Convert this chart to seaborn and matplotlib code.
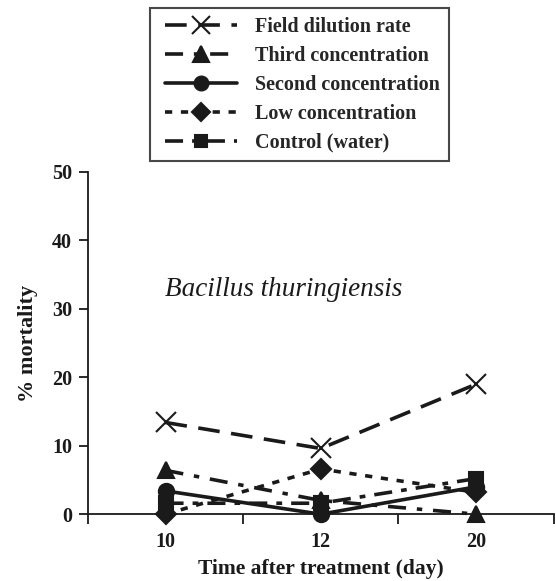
import matplotlib
matplotlib.use("Agg")
import matplotlib.pyplot as plt
from matplotlib.lines import Line2D
from matplotlib.legend_handler import HandlerLine2D
import seaborn as sns
import pandas as pd

days = ["10", "12", "20"]
series = ["Field dilution rate", "Third concentration", "Second concentration",
          "Low concentration", "Control (water)"]
field = [13.4, 9.6, 19.0]
third = [6.4, 2.0, 0.0]
second = [3.4, 0.0, 4.0]
low = [0.0, 6.6, 3.2]
control = [1.6, 1.6, 5.2]

values = [field, third, second, low, control]
rows = []
for name, vals in zip(series, values):
    for d, v in zip(days, vals):
        rows.append({"day": d, "mortality": v, "series": name})
df = pd.DataFrame(rows)

sns.set_theme(style="ticks")
plt.rcParams["font.family"] = ["Liberation Serif", "DejaVu Serif"]

INK = "#1a1a1a"
LW = 2.6
markers = {series[0]: "x", series[1]: "^", series[2]: "o", series[3]: "D", series[4]: "s"}
dashes = {series[0]: (6, 3.2), series[1]: (5, 3, 1.5, 3), series[2]: None,
          series[3]: (2.0, 2.4), series[4]: (5, 2.5, 1.6, 2.5)}
msizes = {series[0]: 14, series[1]: 12, series[2]: 11, series[3]: 10, series[4]: 10}

fig = plt.figure(figsize=(5.56, 5.81), dpi=100)
ax = fig.add_axes([0.158, 0.115, 0.838, 0.589])

for name in series:
    sub = df[df["series"] == name]
    d = dashes[name]
    sns.lineplot(data=sub, x="day", y="mortality", color=INK, linewidth=LW,
                 marker=markers[name], markersize=msizes[name],
                 markeredgecolor=INK, markerfacecolor=INK, markeredgewidth=1.5,
                 linestyle="-" if d is None else (0, d),
                 sort=False, legend=False, ax=ax, clip_on=False)

ax.set_xlim(-0.5, 2.5)
ax.set_ylim(0, 50)
ax.set_yticks([0, 10, 20, 30, 40, 50])
ax.set_xticks([0, 1, 2])
ax.set_xticklabels(days)
ax.set_xticks([-0.5, 0.5, 1.5, 2.5], minor=True)
ax.tick_params(axis="x", which="major", length=0, pad=13)
ax.tick_params(axis="x", which="minor", length=7, width=1.3, direction="out", color=INK)
ax.tick_params(axis="y", length=6.5, width=1.3, direction="out", color=INK, pad=5)
for lab in ax.get_xticklabels() + ax.get_yticklabels():
    lab.set_fontweight("bold")
    lab.set_fontsize(14.5)
    lab.set_color(INK)
sns.despine(ax=ax)
for s in ["left", "bottom"]:
    ax.spines[s].set_linewidth(1.3)
    ax.spines[s].set_color(INK)

ax.set_xlabel("Time after treatment (day)", fontsize=15.5, fontweight="bold", color=INK, labelpad=5)
ax.set_ylabel("% mortality", fontsize=16, fontweight="bold", color=INK, labelpad=10)

ax.text(0.76, 32.8, "Bacillus thuringiensis", fontsize=19.5, style="italic",
        ha="center", va="center", color=INK)

handles = []
for name in series:
    d = dashes[name]
    h = Line2D([], [], color=INK, linewidth=LW, marker=markers[name],
               markersize=msizes[name] - 1, markeredgewidth=1.5,
               markerfacecolor=INK, markeredgecolor=INK,
               linestyle="-" if d is None else (0, d))
    handles.append(h)

leg = fig.legend(handles=handles, labels=series, loc="upper left",
                 bbox_to_anchor=(0.27, 0.986), frameon=True, fancybox=False,
                 handlelength=4.2, handletextpad=0.6, labelspacing=0.45,
                 borderpad=0.42, borderaxespad=0,
                 prop={"weight": "bold", "size": 14.5},
                 handler_map={Line2D: HandlerLine2D(numpoints=3)})
leg.get_frame().set_edgecolor(INK)
leg.get_frame().set_linewidth(1.5)
for h in leg.legend_handles:
    h.set_markevery([1])

fig.savefig("out.png", dpi=100)
